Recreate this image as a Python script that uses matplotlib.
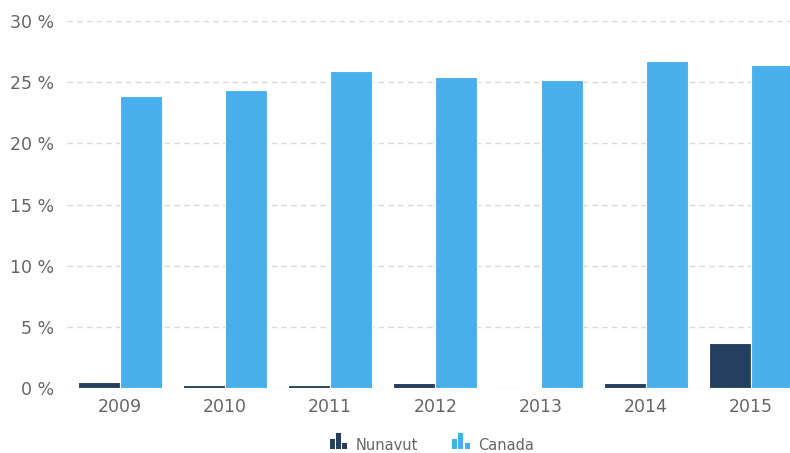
import numpy as np
import matplotlib
matplotlib.use("Agg")
import matplotlib.pyplot as plt
from matplotlib.patches import Rectangle
from matplotlib.legend_handler import HandlerBase

plt.rcParams['font.family'] = ['DejaVu Sans']

years = ["2009", "2010", "2011", "2012", "2013", "2014", "2015"]
nunavut = [0.5, 0.25, 0.25, 0.4, 0.0, 0.4, 3.7]
canada = [23.9, 24.4, 25.9, 25.4, 25.2, 26.7, 26.4]

c_nu = "#243f5f"
c_ca = "#49aeec"
grey = "#666666"


class BarIcon(HandlerBase):
    # little three-bar icon like the original legend
    def create_artists(self, legend, orig, xd, yd, w, h, fontsize, trans):
        col = orig.get_facecolor()
        bw = w / 3.6
        arts = []
        for i, hh in enumerate([0.6, 1.0, 0.35]):
            r = Rectangle((xd + i * bw * 1.3, yd - 1), bw, h * hh + 1,
                          facecolor=col, edgecolor="none", transform=trans)
            arts.append(r)
        return arts


fig = plt.figure(figsize=(7.9, 4.53), dpi=100)
ax = fig.add_axes([67 / 790, 1 - 388 / 453, 1 - 67 / 790, (388 - 21) / 453])

x = np.arange(len(years))
bw = 0.4
b1 = ax.bar(x - bw / 2, nunavut, bw, color=c_nu, edgecolor="white", linewidth=0.8, label="Nunavut", zorder=3)
b2 = ax.bar(x + bw / 2, canada, bw, color=c_ca, edgecolor="white", linewidth=0.8, label="Canada", zorder=3)

ax.set_ylim(0, 30)
ax.set_xlim(-0.5, 6.37)
ax.set_yticks(range(0, 31, 5))
ax.set_yticklabels(["%d %%" % v for v in range(0, 31, 5)])
ax.set_xticks(x)
ax.set_xticklabels(years)
ax.tick_params(axis="both", length=0, labelsize=12.5, colors=grey)
ax.tick_params(axis="y", pad=9)
ax.tick_params(axis="x", pad=7)
ax.grid(axis="y", color="#d9d9d9", linestyle=(0, (4, 3)), linewidth=1, zorder=0)
for s in ax.spines.values():
    s.set_visible(False)

leg = fig.legend(handles=[b1.patches[0], b2.patches[0]], labels=["Nunavut", "Canada"],
                 handler_map={Rectangle: BarIcon()}, loc="center",
                 bbox_to_anchor=(432 / 790, 1 - 445 / 453), ncol=2, frameon=False,
                 fontsize=10.5, handlelength=1.2, handleheight=1.1,
                 handletextpad=0.6, columnspacing=2.3)
for t in leg.get_texts():
    t.set_color(grey)

fig.savefig("out.png", dpi=100)
